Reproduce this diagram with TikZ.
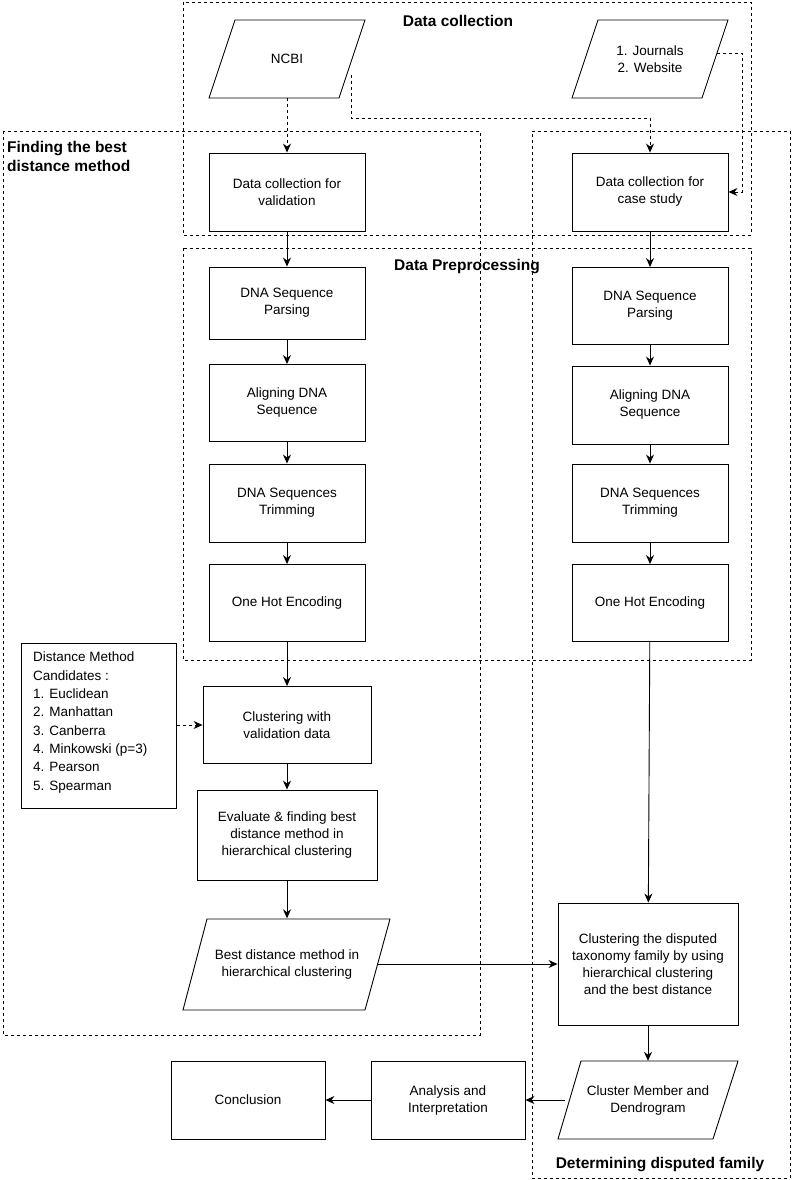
\documentclass[tikz,border=0pt]{standalone}
\usepackage{fontspec}
\setmainfont{Liberation Sans}
\usetikzlibrary{arrows.meta}
\begin{document}
\begin{tikzpicture}[x=1pt,y=-1pt,
  box/.style={draw,line width=0.9pt,align=center,font=\fontsize{13.5}{17}\selectfont,inner sep=0pt},
  io/.style={align=center,font=\fontsize{13.5}{17}\selectfont,inner sep=0pt},
  grp/.style={draw,line width=0.9pt,dash pattern=on 3pt off 3pt},
  ttl/.style={font=\bfseries\fontsize{15.5}{19}\selectfont,inner sep=0pt},
  arr/.style={line width=0.9pt,-{Stealth[length=9pt,width=8pt]}},
  darr/.style={arr,dash pattern=on 3pt off 3pt}]
\useasboundingbox (0,0) rectangle (792,1180);
% group boxes
\draw[grp] (183,2) rectangle (751,235);
\draw[grp] (183,248) rectangle (751,660);
\draw[grp] (3,131) rectangle (480,1035);
\draw[grp] (532,131) -- (790,131) -- (790,1178) -- (532,1178) -- cycle;
\node[ttl] (t1) at (458,21) {Data collection};
\node[ttl] (t2) at (467,267) {Data Preprocessing};
\node[ttl,anchor=north west,align=left] (t3) at (7,141) {Finding the best\\distance method};
\node[ttl] (t4) at (660,1165) {Determining disputed family};
% parallelograms
\node[io,minimum width=130pt,minimum height=78pt] (ncbi) at (287,59) {NCBI};
\draw[line width=0.9pt] (235,20) -- (365,20) -- (339,98) -- (209,98) -- cycle;
\node[io,minimum width=130pt,minimum height=78pt] (jour) at (650,59) {1. Journals\\2. Website};
\draw[line width=0.9pt] (598,20) -- (728,20) -- (702,98) -- (572,98) -- cycle;
% left column
\node[box,minimum width=156pt,minimum height=78pt] (dcv) at (287,192) {Data collection for\\validation};
\node[box,minimum width=156pt,minimum height=72pt] (lp) at (287,303) {DNA Sequence\\Parsing};
\node[box,minimum width=156pt,minimum height=77pt] (la) at (287,403) {Aligning DNA\\Sequence};
\node[box,minimum width=156pt,minimum height=78pt] (lt) at (287,503) {DNA Sequences\\Trimming};
\node[box,minimum width=156pt,minimum height=77pt] (lo) at (287,603) {One Hot Encoding};
% right column
\node[box,minimum width=156pt,minimum height=78pt] (dcc) at (650,192) {Data collection for\\case study};
\node[box,minimum width=156pt,minimum height=77pt] (rp) at (650,306) {DNA Sequence\\Parsing};
\node[box,minimum width=156pt,minimum height=78pt] (ra) at (650,405) {Aligning DNA\\Sequence};
\node[box,minimum width=156pt,minimum height=78pt] (rt) at (650,503) {DNA Sequences\\Trimming};
\node[box,minimum width=156pt,minimum height=77pt] (ro) at (650,603) {One Hot Encoding};
% lower
\node[box,minimum width=155pt,minimum height=165pt,align=left,anchor=north west,text width=140pt] (cand) at (21,643) {};
\node[align=left,anchor=north west,font=\fontsize{13.5}{18.3}\selectfont,inner sep=0pt] (candt) at (33,652) {Distance Method\\Candidates :\\1. Euclidean\\2. Manhattan\\3. Canberra\\4. Minkowski (p=3)\\4. Pearson\\5. Spearman};
\node[box,minimum width=168pt,minimum height=77pt] (cv) at (287,725) {Clustering with\\validation data};
\node[box,minimum width=180pt,minimum height=90pt] (ev) at (287,835) {Evaluate \& finding best\\distance method in\\hierarchical clustering};
\node[io,minimum width=170pt,minimum height=91pt] (bd) at (287,964) {Best distance method in\\hierarchical clustering};
\draw[line width=0.9pt] (207,919) -- (390,919) -- (365,1010) -- (183,1010) -- cycle;
\node[box,minimum width=180pt,minimum height=122pt] (cd) at (648,964) {Clustering the disputed\\taxonomy family by using\\hierarchical clustering\\and the best distance};
\node[io,minimum width=150pt,minimum height=78pt] (cm) at (648,1100) {Cluster Member and\\Dendrogram};
\draw[line width=0.9pt] (581,1061) -- (738,1061) -- (713,1139) -- (558,1139) -- cycle;
\node[box,minimum width=154pt,minimum height=78pt] (an) at (448,1100) {Analysis and\\Interpretation};
\node[box,minimum width=154pt,minimum height=78pt] (co) at (248,1100) {Conclusion};
% connectors
\draw[darr] (ncbi.south) -- (dcv.north);
\draw[darr] (351,75) |- (650,118) -- (dcc.north);
\draw[darr] (717,53) -| (742,192) -- (dcc.east);
\draw[arr] (dcv) -- (lp);
\draw[arr] (lp) -- (la);
\draw[arr] (la) -- (lt);
\draw[arr] (lt) -- (lo);
\draw[arr] (dcc) -- (rp);
\draw[arr] (rp) -- (ra);
\draw[arr] (ra) -- (rt);
\draw[arr] (rt) -- (ro);
\draw[arr] (lo) -- (cv);
\draw[darr] (cand.east |- cv.west) -- (cv.west);
\draw[arr] (cv) -- (ev);
\draw[arr] (ev) -- (bd.north);
\draw[arr] (ro) -- (cd);
\draw[arr] (377,964) -- (cd.west);
\draw[arr] (cd) -- (cm.north);
\draw[arr] (565,1100) -- (an.east);
\draw[arr] (an) -- (co);
\end{tikzpicture}
\end{document}
